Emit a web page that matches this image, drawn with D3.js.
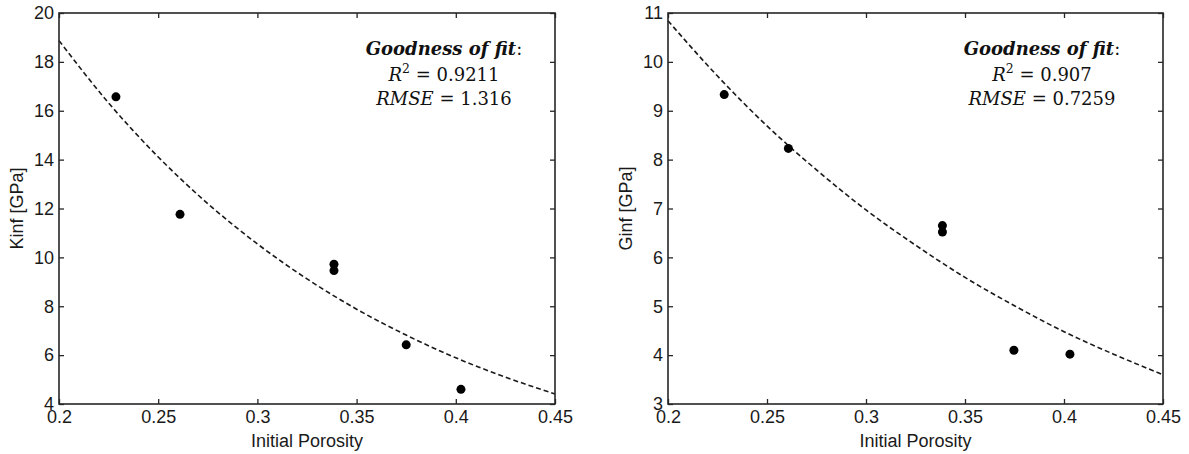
<!DOCTYPE html>
<html><head><meta charset="utf-8">
<script src="https://cdn.jsdelivr.net/npm/d3@7"></script>
<style>
body{margin:0;background:#fff;}
</style></head>
<body><svg id="c" width="1189" height="454"></svg>
<script>
// ---- data ----
const xTicks = [0.2, 0.25, 0.3, 0.35, 0.4, 0.45];
const xTickLabels = ["0.2", "0.25", "0.3", "0.35", "0.4", "0.45"];

const kPorosity = [0.2287, 0.261, 0.3386, 0.3386, 0.375, 0.4026];
const kValues   = [16.57, 11.76, 9.72, 9.46, 6.42, 4.60];
const kFitX     = [0.2, 0.225, 0.25, 0.275, 0.3, 0.325, 0.35, 0.375, 0.4, 0.425, 0.45];
const kFitY     = [18.87, 16.32, 14.11, 12.20, 10.55, 9.12, 7.88, 6.82, 5.89, 5.10, 4.41];
const kYTicks   = [4, 6, 8, 10, 12, 14, 16, 18, 20];

const gPorosity = [0.2284, 0.2608, 0.3386, 0.3386, 0.3747, 0.403];
const gValues   = [9.33, 8.23, 6.65, 6.52, 4.10, 4.02];
const gFitX     = [0.2, 0.225, 0.25, 0.275, 0.3, 0.325, 0.35, 0.375, 0.4, 0.425, 0.45];
const gFitY     = [10.84, 9.71, 8.69, 7.79, 6.97, 6.25, 5.59, 5.01, 4.48, 4.02, 3.60];
const gYTicks   = [3, 4, 5, 6, 7, 8, 9, 10, 11];

const panels = [
  {left:59, right:555, top:13, bottom:404, yDomain:[4,20], yTicks:kYTicks, px:kPorosity, py:kValues,
   fx:kFitX, fy:kFitY, yLabel:"Kinf [GPa]", r2:"0.9211", rmse:"1.316", annX:444},
  {left:668, right:1163, top:13, bottom:404, yDomain:[3,11], yTicks:gYTicks, px:gPorosity, py:gValues,
   fx:gFitX, fy:gFitY, yLabel:"Ginf [GPa]", r2:"0.907", rmse:"0.7259", annX:1042}
];

const svg = d3.select("#c");
const axisColor = "#262626";
const sans = "'Liberation Sans',Arial,sans-serif";
const serif = "'DejaVu Serif','Liberation Serif',serif";

panels.forEach(p => {
  const x = d3.scaleLinear().domain([0.2, 0.45]).range([p.left, p.right]);
  const y = d3.scaleLinear().domain(p.yDomain).range([p.bottom, p.top]);
  const g = svg.append("g");

  // fit curve
  const line = d3.line().x(d => x(d[0])).y(d => y(d[1])).curve(d3.curveMonotoneX);
  g.append("path").datum(p.fx.map((v,i)=>[v,p.fy[i]]))
    .attr("d", line).attr("fill","none").attr("stroke","#1a1a1a")
    .attr("stroke-width",1.6).attr("stroke-dasharray","5,3");

  // points
  g.selectAll("circle.pt").data(p.px.map((v,i)=>[v,p.py[i]])).enter()
    .append("circle").attr("cx",d=>x(d[0])).attr("cy",d=>y(d[1]))
    .attr("r",4.5).attr("fill","#000");

  // axes
  const fmt = d => xTickLabels[xTicks.indexOf(d)];
  const bottomAxis = g.append("g").attr("transform",`translate(0,${p.bottom})`)
    .call(d3.axisBottom(x).tickValues(xTicks).tickFormat(fmt).tickSizeInner(-5).tickSizeOuter(0).tickPadding(5));
  const topAxis = g.append("g").attr("transform",`translate(0,${p.top})`)
    .call(d3.axisTop(x).tickValues(xTicks).tickFormat("").tickSizeInner(-5).tickSizeOuter(0));
  const leftAxis = g.append("g").attr("transform",`translate(${p.left},0)`)
    .call(d3.axisLeft(y).tickValues(p.yTicks).tickFormat(d3.format("d")).tickSizeInner(-5).tickSizeOuter(0).tickPadding(5));
  const rightAxis = g.append("g").attr("transform",`translate(${p.right},0)`)
    .call(d3.axisRight(y).tickValues(p.yTicks).tickFormat("").tickSizeInner(-5).tickSizeOuter(0));
  [bottomAxis, topAxis, leftAxis, rightAxis].forEach(a => {
    a.select(".domain").remove();
    a.selectAll("line").attr("stroke",axisColor).attr("stroke-width",1.3);
    a.selectAll("text").style("font-size","18px").style("fill","#1a1a1a").style("font-family",sans);
  });
  bottomAxis.selectAll("text").attr("dy","0.72em").attr("y",6);

  g.append("rect").attr("x",p.left).attr("y",p.top)
    .attr("width",p.right-p.left).attr("height",p.bottom-p.top)
    .attr("fill","none").attr("stroke",axisColor).attr("stroke-width",1.6);

  // axis titles
  g.append("text").attr("x",(p.left+p.right)/2).attr("y",447)
    .attr("text-anchor","middle").style("font-family",sans).style("font-size","18px").style("fill","#1a1a1a")
    .text("Initial Porosity");
  g.append("text").attr("transform",`translate(${p.left-36},${(p.top+p.bottom)/2}) rotate(-90)`)
    .attr("text-anchor","middle").style("font-family",sans).style("font-size","18px").style("fill","#1a1a1a")
    .text(p.yLabel);

  // goodness of fit annotation
  const h = g.append("text").attr("x",p.annX).attr("y",55).attr("text-anchor","middle")
    .style("font-family",serif).style("font-size","18px").style("fill","#111");
  h.append("tspan").style("font-weight","bold").style("font-style","italic").text("Goodness of fit");
  h.append("tspan").text(":");
  const t2 = g.append("text").attr("x",p.annX).attr("y",81).attr("text-anchor","middle")
    .style("font-family",serif).style("font-size","18px").style("fill","#111");
  t2.append("tspan").style("font-style","italic").text("R");
  t2.append("tspan").style("font-size","12.5px").attr("dy",-8).text("2");
  t2.append("tspan").attr("dy",8).text(" = " + p.r2);
  const t3 = g.append("text").attr("x",p.annX).attr("y",105).attr("text-anchor","middle")
    .style("font-family",serif).style("font-size","18px").style("fill","#111");
  t3.append("tspan").style("font-style","italic").text("RMSE");
  t3.append("tspan").text(" = " + p.rmse);
});
</script></body></html>
